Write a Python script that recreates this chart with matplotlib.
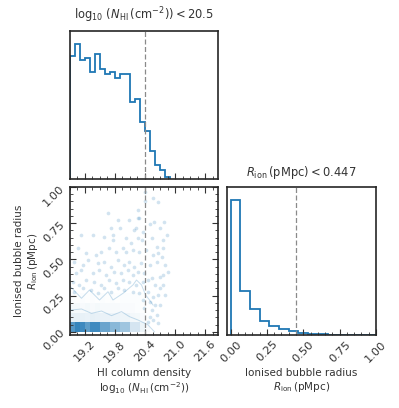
import numpy as np
import matplotlib; matplotlib.use("Agg")
import matplotlib.pyplot as plt
from matplotlib.colors import LinearSegmentedColormap
from matplotlib.ticker import MultipleLocator, AutoMinorLocator

# --- data ---
nhi_edges = [18.9, 19.0, 19.1, 19.2, 19.3, 19.4, 19.5, 19.6, 19.7, 19.8, 19.9,
             20.0, 20.1, 20.2, 20.3, 20.4, 20.5, 20.6, 20.7, 20.8, 20.9]
nhi_counts = [124, 136, 120, 122, 108, 126, 111, 106, 108, 102, 106, 106,
              78, 81, 57, 48, 28, 14, 9, 2]
r_edges = np.linspace(0.0, 1.0, 16)
r_counts = [135, 44, 26, 14, 9.5, 6.8, 4, 2, 1.4, 1.0, 0.7, 0.5, 0.4, 0.3, 0.2]
nhi_cut = 20.41
r_cut = 0.447

# 2d density grid (rows: R bins, cols: log NHI bins)
grid_x = nhi_edges[:19]
grid_r = [0.0, 0.0667, 0.1333, 0.2, 0.2667]
grid_z = [[0.80, 0.95, 0.90, 0.75, 0.90, 0.90, 0.70, 0.70, 0.55, 0.55, 0.45, 0.45, 0.20, 0.20, 0.08, 0.03, 0.0, 0.0],
          [0.12, 0.12, 0.11, 0.10, 0.12, 0.11, 0.10, 0.10, 0.09, 0.09, 0.08, 0.08, 0.06, 0.05, 0.03, 0.01, 0.0, 0.0],
          [0.05, 0.05, 0.04, 0.05, 0.04, 0.05, 0.04, 0.04, 0.04, 0.04, 0.03, 0.03, 0.03, 0.02, 0.01, 0.0, 0.0, 0.0],
          [0.02, 0.01, 0.02, 0.01, 0.02, 0.01, 0.02, 0.01, 0.02, 0.01, 0.02, 0.02, 0.02, 0.02, 0.01, 0.0, 0.0, 0.0]]
cont1_x = [18.9, 18.93, 19.13, 19.33, 19.53, 19.73, 19.93, 20.09, 20.26, 20.46, 20.59]
cont1_r = [0.15, 0.151, 0.158, 0.128, 0.144, 0.112, 0.14, 0.105, 0.082, 0.048, 0.0]
cont2_x = [18.91, 19.13, 19.29, 19.49, 19.66, 19.76, 19.96, 20.16, 20.23, 20.33, 20.41, 20.49, 20.56]
cont2_r = [0.312, 0.232, 0.289, 0.22, 0.277, 0.22, 0.266, 0.324, 0.358, 0.324, 0.255, 0.22, 0.186]
pts_x = [20.41, 20.41, 20.56, 20.65, 20.26, 20.29, 19.66, 19.86, 20.09, 20.23, 20.27, 20.49,
         20.58, 20.69, 20.78, 20.83, 20.75, 19.73, 19.76, 19.91, 20.19, 20.36, 19.36, 19.13,
         19.59, 19.76, 20.03, 20.13, 20.26, 20.34, 20.53, 20.63, 20.76, 19.06, 19.23, 19.43,
         19.53, 19.69, 19.83, 19.96, 20.03, 20.16, 20.29, 20.43, 20.56, 20.66, 20.73, 18.99,
         19.16, 19.26, 19.46, 19.59, 19.73, 19.86, 19.99, 20.09, 20.19, 20.33, 20.49, 20.63,
         20.79, 19.03, 19.13, 19.36, 19.49, 19.63, 19.79, 19.93, 20.06, 20.16, 20.26, 20.39,
         20.53, 20.69, 20.76, 18.96, 19.09, 19.23, 19.39, 19.53, 19.69, 19.83, 19.96, 20.09,
         20.23, 20.36, 20.46, 20.59, 20.69, 18.99, 19.16, 19.33, 19.46, 19.59, 19.73, 19.86,
         19.99, 20.16, 20.29, 20.46, 20.56, 20.66, 20.49, 20.59, 20.53, 20.63, 20.56, 20.66,
         20.49, 20.46, 20.69, 20.39, 20.36, 20.76, 20.86, 20.79]
pts_r = [0.968, 0.904, 0.927, 0.894, 0.841, 0.784, 0.818, 0.772, 0.772, 0.715, 0.784, 0.743,
         0.756, 0.715, 0.761, 0.669, 0.634, 0.715, 0.669, 0.715, 0.703, 0.692, 0.669, 0.669,
         0.657, 0.634, 0.646, 0.611, 0.646, 0.634, 0.646, 0.588, 0.577, 0.577, 0.542, 0.531,
         0.554, 0.577, 0.554, 0.577, 0.554, 0.565, 0.554, 0.565, 0.531, 0.542, 0.519, 0.485,
         0.462, 0.496, 0.473, 0.485, 0.450, 0.496, 0.462, 0.485, 0.450, 0.473, 0.462, 0.485,
         0.462, 0.404, 0.427, 0.404, 0.427, 0.393, 0.416, 0.404, 0.427, 0.393, 0.416, 0.404,
         0.370, 0.381, 0.393, 0.347, 0.324, 0.358, 0.347, 0.324, 0.358, 0.335, 0.358, 0.347,
         0.324, 0.347, 0.358, 0.324, 0.301, 0.278, 0.301, 0.289, 0.266, 0.301, 0.278, 0.301,
         0.289, 0.278, 0.266, 0.278, 0.243, 0.255, 0.209, 0.186, 0.151, 0.117, 0.082, 0.059,
         0.105, 0.071, 0.186, 0.163, 0.220, 0.324, 0.416, 0.255]

col = "#1f77b4"
txt = "#333333"
plt.rcParams.update({"font.size": 7.5, "text.color": txt, "axes.labelcolor": txt,
                     "xtick.color": txt, "ytick.color": txt, "axes.edgecolor": "#262626",
                     "axes.linewidth": 1.2, "xtick.labelsize": 8.2, "ytick.labelsize": 8.2})

fig = plt.figure(figsize=(3.99, 4.08), dpi=100)
ax_top = fig.add_axes([0.1754, 0.5613, 0.371, 0.3635])
ax_2d = fig.add_axes([0.1754, 0.1777, 0.371, 0.364])
ax_r = fig.add_axes([0.5689, 0.1777, 0.3734, 0.364])

xlim = (18.9, 21.86)
rlim = (-0.025, 1.0)
dash = dict(color="#8a8a8a", ls=(0, (4, 2)), lw=0.9)

def style(ax, top=False, right=False, left=True):
    ax.tick_params(which="both", direction="in", top=top, right=right, left=left, pad=2.5)
    ax.tick_params(which="major", length=4)
    ax.tick_params(which="minor", length=2.5)

# top histogram
ax_top.stairs(nhi_counts, nhi_edges, color=col, lw=1.3)
ax_top.axvline(nhi_cut, **dash)
ax_top.set_xlim(xlim); ax_top.set_ylim(0, 1.1 * max(nhi_counts))
ax_top.xaxis.set_major_locator(MultipleLocator(0.6))
ax_top.xaxis.set_minor_locator(AutoMinorLocator())
ax_top.set_xticklabels([]); ax_top.set_yticks([])
style(ax_top, left=False)
ax_top.set_title(r"$\log_{10}\,(N_{\rm HI}\,({\rm cm}^{-2})) < 20.5$", fontsize=8.3, pad=8)

# 2d panel
cmap = LinearSegmentedColormap.from_list("dens", ["white", col])
ax_2d.pcolormesh(grid_x, grid_r, np.array(grid_z), cmap=cmap, vmin=0, vmax=1.05)
ax_2d.scatter(pts_x, pts_r, s=7, color=col, alpha=0.2, lw=0)
ax_2d.plot(cont1_x, cont1_r, color=col, lw=0.7, alpha=0.25)
ax_2d.plot(cont2_x, cont2_r, color=col, lw=0.7, alpha=0.25)
ax_2d.axvline(nhi_cut, **dash)
ax_2d.set_xlim(xlim); ax_2d.set_ylim(rlim)
ax_2d.xaxis.set_major_locator(MultipleLocator(0.6))
ax_2d.xaxis.set_minor_locator(AutoMinorLocator())
ax_2d.yaxis.set_major_locator(MultipleLocator(0.25))
ax_2d.yaxis.set_minor_locator(AutoMinorLocator())
ax_2d.set_xticks([19.2, 19.8, 20.4, 21.0, 21.6])
ax_2d.set_xticklabels(["19.2", "19.8", "20.4", "21.0", "21.6"], rotation=45)
ax_2d.set_yticks([0, 0.25, 0.5, 0.75, 1.0])
ax_2d.set_yticklabels(["0.00", "0.25", "0.50", "0.75", "1.00"], rotation=45)
style(ax_2d, top=True, right=True)
ax_2d.set_xlabel("HI column density\n" + r"$\log_{10}\,(N_{\rm HI}\,({\rm cm}^{-2}))$", labelpad=3)
ax_2d.set_ylabel("Ionised bubble radius\n" + r"$R_{\rm ion}\,({\rm pMpc})$", labelpad=1)

# R histogram
ax_r.stairs(r_counts, r_edges, color=col, lw=1.3)
ax_r.axvline(r_cut, **dash)
ax_r.set_xlim(rlim); ax_r.set_ylim(0, 1.1 * max(r_counts))
ax_r.set_xticks([0, 0.25, 0.5, 0.75, 1.0])
ax_r.set_xticklabels(["0.00", "0.25", "0.50", "0.75", "1.00"], rotation=45)
ax_r.xaxis.set_minor_locator(AutoMinorLocator())
ax_r.set_yticks([])
style(ax_r, left=False)
ax_r.set_title(r"$R_{\rm ion}\,({\rm pMpc}) < 0.447$", fontsize=8.3, pad=8)
ax_r.set_xlabel("Ionised bubble radius\n" + r"$R_{\rm ion}\,({\rm pMpc})$", labelpad=3)

fig.savefig("out.png", dpi=100)
